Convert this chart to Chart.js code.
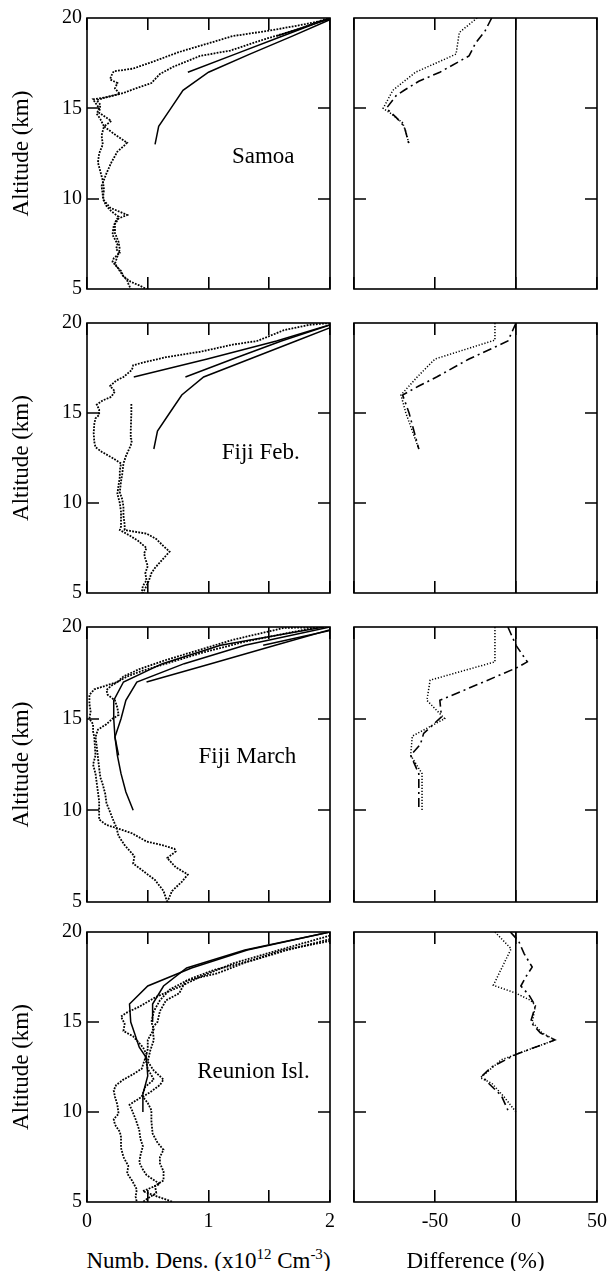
<!DOCTYPE html>
<html>
<head>
<meta charset="utf-8">
<script src="https://cdn.jsdelivr.net/npm/chart.js@4.4.0/dist/chart.umd.min.js"></script>
<style>
  html, body { margin: 0; padding: 0; background: #fff; }
  #page { position: relative; width: 609px; height: 1271px; overflow: hidden; }
  #page canvas { position: absolute; }
  #xtitle { position: absolute; left: 0; width: 417px; top: 1249px; text-align: center;
    font: 23px "Liberation Serif", serif; line-height: 24px; color: #000; white-space: nowrap; }
  #xtitle sup { font-size: 15px; line-height: 0; vertical-align: 9px; }
</style>
</head>
<body>
<div id="page">
  <div id="xtitle">Numb. Dens. (x10<sup>12</sup> Cm<sup>-3</sup>)</div>
</div>
<script>
(function() {
  'use strict';
  // 観測地点
  const stations = ['Samoa', 'Fiji Feb.', 'Fiji March', 'Reunion Isl.'];
  // 目盛り
  const altTicks = [5, 10, 15, 20];
  const densTicks = [0, 0.5, 1, 1.5, 2];
  const densLabelled = [0, 1, 2];
  const diffTicks = [-100, -50, 0, 50];
  const diffLabelled = [-50, 0, 50];

  // [高度 km, 数密度 x10^12] ゾンデ観測
  const samoaSonde1 = [[20,2.05],[19.6,1.75],[19.3,1.5],[19.0,1.2],[18.5,0.95],[18.1,0.75],[17.6,0.55],[17.2,0.38],[17.05,0.22],[16.8,0.2],[16.6,0.19],[16.4,0.25],[16.1,0.23],[15.8,0.27],[15.6,0.15],[15.5,0.05],[15.3,0.07],[15.0,0.1],[14.7,0.08],[14.4,0.11],[14.0,0.14],[13.5,0.12],[13.0,0.13],[12.5,0.1],[12.0,0.09],[11.5,0.11],[11.0,0.13],[10.5,0.14],[10.0,0.13],[9.6,0.16],[9.3,0.2],[9.0,0.26],[8.8,0.24],[8.5,0.22],[8.0,0.21],[7.5,0.25],[7.2,0.24],[7.0,0.27],[6.7,0.22],[6.5,0.21],[6.2,0.25],[6.0,0.28],[5.7,0.3],[5.5,0.33],[5.3,0.34],[5.0,0.36]];
  const samoaSonde2 = [[20,1.98],[19.4,1.75],[18.8,1.45],[18.2,1.18],[17.9,0.93],[17.3,0.71],[16.9,0.6],[16.4,0.53],[16.1,0.4],[15.85,0.3],[15.6,0.15],[15.45,0.08],[15.2,0.11],[14.75,0.1],[14.3,0.2],[14.0,0.14],[13.6,0.22],[13.1,0.33],[12.9,0.3],[12.6,0.25],[12.0,0.2],[11.4,0.16],[10.7,0.12],[10.2,0.13],[9.9,0.14],[9.5,0.19],[9.1,0.33],[8.9,0.26],[8.6,0.23],[8.1,0.23],[7.6,0.26],[7.2,0.27],[6.8,0.25],[6.4,0.23],[6.0,0.27],[5.7,0.3],[5.4,0.36],[5.2,0.43],[5.0,0.49]];
  const fijiFebSonde1 = [[20,2.0],[19.9,1.83],[19.6,1.62],[19.0,1.4],[18.8,1.2],[18.4,0.93],[18.1,0.65],[17.8,0.46],[17.65,0.38],[17.4,0.37],[17.0,0.3],[16.8,0.24],[16.5,0.19],[16.2,0.23],[15.9,0.2],[15.7,0.13],[15.46,0.08],[15.2,0.1],[14.9,0.1],[14.7,0.07],[14.4,0.06],[13.9,0.055],[13.4,0.06],[13.1,0.07],[12.85,0.12],[12.5,0.21],[12.2,0.28],[11.8,0.27],[11.45,0.27],[11.0,0.26],[10.5,0.25],[10.0,0.27],[9.5,0.28],[9.0,0.28],[8.7,0.28],[8.5,0.27],[8.2,0.35],[7.9,0.42],[7.5,0.49],[7.2,0.47],[6.9,0.48],[6.5,0.5],[6.1,0.48],[5.7,0.49],[5.4,0.46],[5.0,0.45]];
  const fijiFebSonde2 = [[15.5,0.365],[15.0,0.365],[14.0,0.36],[13.6,0.36],[13.5,0.37],[13.2,0.36],[12.6,0.32],[12.2,0.3],[11.6,0.29],[11.2,0.28],[10.6,0.27],[10.2,0.29],[9.8,0.3],[9.3,0.3],[8.8,0.31],[8.5,0.31],[8.3,0.49],[8.0,0.57],[7.6,0.63],[7.3,0.68],[7.0,0.64],[6.7,0.6],[6.4,0.56],[6.1,0.53],[5.7,0.51],[5.4,0.49],[5.0,0.46]];
  const fijiMarSonde1 = [[20,2.0],[19.95,1.62],[19.3,1.2],[18.7,0.9],[18.2,0.65],[17.7,0.43],[17.3,0.3],[17.0,0.25],[16.6,0.06],[16.3,0.02],[15.8,0.02],[15.4,0.03],[15.0,0.02],[14.7,0.05],[14.3,0.05],[14.0,0.06],[13.0,0.07],[12.5,0.05],[12.0,0.07],[11.5,0.08],[11.0,0.09],[10.5,0.1],[10.0,0.1],[9.5,0.1],[9.2,0.16],[9.0,0.26],[8.75,0.37],[8.3,0.49],[8.1,0.62],[7.9,0.72],[7.75,0.73],[7.4,0.66],[6.9,0.73],[6.5,0.83],[6.1,0.78],[5.6,0.7],[5.0,0.66]];
  const fijiMarSonde2 = [[20,1.9],[19.2,1.3],[18.6,0.95],[18.1,0.7],[17.6,0.45],[17.3,0.33],[17.0,0.25],[16.8,0.2],[16.56,0.16],[16.3,0.17],[16.0,0.23],[15.6,0.25],[15.2,0.26],[15.0,0.21],[14.7,0.16],[14.4,0.09],[14.0,0.07],[13.5,0.08],[12.9,0.09],[12.3,0.1],[11.8,0.11],[11.4,0.13],[10.9,0.15],[10.4,0.16],[9.9,0.19],[9.4,0.22],[9.1,0.24],[8.6,0.26],[8.1,0.31],[7.5,0.39],[7.1,0.38],[6.7,0.46],[6.2,0.56],[5.6,0.63],[5.0,0.66]];
  const reuSonde1 = [[19.8,2.0],[18.9,1.53],[18.25,1.2],[17.5,0.93],[16.95,0.76],[16.4,0.57],[15.85,0.43],[15.5,0.32],[15.3,0.28],[14.9,0.31],[14.5,0.3],[14.2,0.38],[13.6,0.46],[13.2,0.49],[12.8,0.47],[12.4,0.45],[12.1,0.38],[11.8,0.3],[11.5,0.24],[11.2,0.22],[10.85,0.23],[10.4,0.25],[9.9,0.26],[9.6,0.22],[9.3,0.23],[8.9,0.27],[8.6,0.28],[8.0,0.28],[7.5,0.3],[7.0,0.34],[6.6,0.33],[6.2,0.37],[5.7,0.41],[5.3,0.4],[5.0,0.41]];
  const reuSonde2 = [[19.6,2.0],[19.0,1.65],[18.4,1.35],[17.9,1.05],[17.4,0.85],[16.8,0.68],[16.2,0.6],[15.6,0.55],[15.0,0.53],[14.6,0.55],[14.0,0.5],[13.5,0.5],[13.0,0.48],[12.4,0.5],[11.8,0.55],[11.4,0.48],[10.85,0.45],[10.4,0.35],[10.1,0.37],[9.6,0.4],[9.0,0.43],[8.5,0.44],[8.1,0.46],[7.6,0.44],[7.2,0.43],[6.8,0.46],[6.5,0.49],[6.0,0.6],[5.6,0.46],[5.3,0.58],[5.0,0.71]];
  const reuSonde3 = [[19.5,2.0],[19.0,1.62],[18.4,1.34],[17.7,1.07],[17.3,0.82],[17.0,0.79],[16.6,0.76],[16.2,0.65],[15.6,0.6],[15.0,0.58],[14.7,0.54],[14.0,0.55],[13.4,0.52],[12.8,0.5],[12.3,0.55],[11.8,0.63],[11.5,0.6],[11.1,0.52],[10.85,0.46],[10.5,0.5],[10.1,0.53],[9.5,0.53],[8.8,0.54],[8.3,0.58],[7.9,0.63],[7.5,0.6],[7.15,0.6],[6.7,0.63],[6.2,0.63],[5.9,0.56],[5.5,0.57],[5.2,0.5],[5.0,0.46]];

  // [高度 km, 数密度] モデル
  const samoaModel1 = [[13,0.56],[14,0.59],[15,0.69],[16,0.79],[17,1.0],[18,1.34],[19,1.69],[20,2.03]];
  const samoaModel2 = [[17,0.83],[18,1.22],[19,1.61],[20,2.0]];
  const samoaModel3 = [[19,1.56],[20,2.02]];
  const fijiFebModel1 = [[13,0.55],[14,0.58],[15,0.68],[16,0.78],[17,0.96],[18,1.34],[19,1.72],[20,2.1]];
  const fijiFebModel2 = [[17,0.81],[18,1.2],[19,1.6],[20,2.05]];
  const fijiFebModel3 = [[17,0.385],[18,0.99],[19,1.56],[20,2.05]];
  const fijiMarModel1 = [[10,0.38],[11,0.32],[12,0.28],[13,0.25],[14,0.23],[15,0.22],[16,0.22],[17,0.3],[18,0.62],[19,1.1],[20,1.95]];
  const fijiMarModel2 = [[13,0.26],[14,0.23],[15,0.28],[16,0.32],[17,0.41],[18,0.8],[19,1.3],[20,2.0]];
  const fijiMarModel3 = [[17,0.49],[18,1.02],[19,1.55],[20,2.08]];
  const fijiMarModel4 = [[19,1.45],[20,2.13]];
  const reuModel1 = [[10,0.46],[11,0.46],[12,0.5],[13,0.49],[13.6,0.43],[14.4,0.39],[15,0.36],[16,0.35],[17,0.5],[18,0.86],[19,1.32],[20,2.0]];
  const reuModel2 = [[15,0.54],[16,0.54],[17,0.63],[18,0.82],[19,1.3],[20,2.0]];

  // [高度 km, 差 %]
  const samoaDiffDot = [[20,-24],[19.2,-35],[18,-37],[17,-62],[16,-76],[15,-82],[14.7,-77],[14.2,-70],[13.7,-68],[13,-66]];
  const samoaDiffDash = [[20,-15],[19.3,-19],[18.6,-25],[17.9,-29],[17,-47],[16.5,-60],[16,-69],[15.7,-74],[15,-80],[14.5,-74],[14,-69],[13,-66]];
  const fijiFebDiffDot = [[20,-13],[19.05,-13],[18,-50],[17,-61],[16,-71],[15,-68],[14,-64],[13,-60]];
  const fijiFebDiffDash = [[20,0],[19.4,-3],[19,-5],[18,-29],[17,-49],[16.5,-60],[16,-70],[15,-66],[14,-63],[13,-60]];
  const fijiMarDiffDot = [[20,-13],[18.1,-13],[17.1,-53],[16,-55],[15,-44],[14.05,-64],[13,-65],[12,-58],[10,-58]];
  const fijiMarDiffDash = [[20,-5],[19,0],[18.1,7],[17.8,1],[17,-20],[16,-47],[15.1,-46],[14.2,-57],[13.6,-59],[13,-65],[12,-60],[10,-60]];
  const reuDiffDot = [[20,-13],[19.07,-3],[17.04,-14],[16.6,0],[16.2,9],[15.9,12],[15,10],[14.4,16],[14,24],[13.2,0],[12.9,-9],[11.9,-22],[11.6,-15],[10.8,-7],[10,0]];
  const reuDiffDash = [[20,-3.5],[19.5,1.6],[18.8,5],[18.05,10],[17.5,6],[17,3],[16.5,8],[15.9,12],[15,9],[14.4,15],[14,24],[13.2,0],[12.5,-15],[12,-21],[11.6,-17],[10.9,-9],[10.1,-5]];

  // 段ごとの設定
  const rows = [
    { top: 18, height: 271, sondes: [samoaSonde1, samoaSonde2], models: [samoaModel1, samoaModel2, samoaModel3],
      diffDot: samoaDiffDot, diffDash: samoaDiffDash, labelAt: [1.45, 12.3] },
    { top: 323, height: 270, sondes: [fijiFebSonde1, fijiFebSonde2], models: [fijiFebModel1, fijiFebModel2, fijiFebModel3],
      diffDot: fijiFebDiffDot, diffDash: fijiFebDiffDash, labelAt: [1.43, 12.78] },
    { top: 627, height: 275, sondes: [fijiMarSonde1, fijiMarSonde2], models: [fijiMarModel1, fijiMarModel2, fijiMarModel3, fijiMarModel4],
      diffDot: fijiMarDiffDot, diffDash: fijiMarDiffDash, labelAt: [1.32, 12.9] },
    { top: 932, height: 270, sondes: [reuSonde1, reuSonde2, reuSonde3], models: [reuModel1, reuModel2],
      diffDot: reuDiffDot, diffDash: reuDiffDash, labelAt: [1.37, 12.22] },
  ];

  const FONT = '"Liberation Serif", "Times New Roman", serif';
  Chart.defaults.font.family = FONT;
  Chart.defaults.color = '#000';

  const pageElem = document.getElementById('page');
  const lastRow = rows.length - 1;
  const TICK_LEN = 12;

  // 枠と縦軸の内向き目盛り、地点名
  const framePlugin = {
    id: 'frame',
    afterDraw(chart, args, opts) {
      const ctx = chart.ctx;
      const a = chart.chartArea;
      const xs = chart.scales.x;
      const ys = chart.scales.y;
      const yTicks = (opts.yTicks || []).slice(1, -1);
      ctx.save();
      ctx.setLineDash([]);
      ctx.strokeStyle = '#000';
      ctx.fillStyle = '#000';
      ctx.lineWidth = 1.6;
      ctx.strokeRect(a.left, a.top, a.right - a.left, a.bottom - a.top);
      yTicks.forEach(function(v) {
        const py = Math.round(ys.getPixelForValue(v));
        ctx.beginPath();
        ctx.moveTo(a.left, py);
        ctx.lineTo(a.left + TICK_LEN, py);
        ctx.moveTo(a.right, py);
        ctx.lineTo(a.right - TICK_LEN, py);
        ctx.stroke();
      });
      if (opts.label) {
        ctx.font = '23px ' + FONT;
        ctx.textAlign = 'center';
        ctx.textBaseline = 'middle';
        ctx.fillText(opts.label, xs.getPixelForValue(opts.at[0]), ys.getPixelForValue(opts.at[1]));
      }
      ctx.restore();
    }
  };

  function toPoints(pairs) {
    return pairs.map(function(p) { return { x: p[1], y: p[0] }; });
  }

  function addCanvas(left, top, width, height) {
    const c = document.createElement('canvas');
    c.width = width;
    c.height = height;
    c.style.left = left + 'px';
    c.style.top = top + 'px';
    c.style.width = width + 'px';
    c.style.height = height + 'px';
    pageElem.appendChild(c);
    return c.getContext('2d');
  }

  function yScale(showLabels, leftWidth) {
    return {
      type: 'linear', min: 5, max: 20,
      afterBuildTicks: function(s) { s.ticks = altTicks.map(function(v) { return { value: v }; }); },
      afterFit: function(s) { s.width = leftWidth; s.paddingTop = 0; s.paddingBottom = 0; },
      grid: { display: false, drawTicks: false },
      border: { display: false },
      ticks: { display: showLabels, padding: 5, font: { size: 20 } },
      title: { display: showLabels, text: 'Altitude (km)', font: { size: 23 }, padding: { top: 8, bottom: 0 } }
    };
  }

  // 下側の横軸（目盛りは負の長さで内向き）
  function xScale(min, max, tickValues, labelled, isBottom, title) {
    return {
      type: 'linear', position: 'bottom', min: min, max: max,
      afterBuildTicks: function(s) { s.ticks = tickValues.map(function(v) { return { value: v }; }); },
      afterFit: function(s) { s.height = isBottom ? 69 : 0; s.paddingLeft = 0; s.paddingRight = 0; },
      grid: { display: true, drawOnChartArea: false, drawTicks: true, tickLength: -TICK_LEN,
        color: '#000', tickColor: '#000', lineWidth: 1.6, tickWidth: 1.6 },
      border: { display: false },
      ticks: {
        display: isBottom, padding: 8 + TICK_LEN, autoSkip: false, maxRotation: 0, font: { size: 20 },
        callback: function(v) { return labelled.indexOf(v) >= 0 ? String(v) : ''; }
      },
      title: { display: isBottom && !!title, text: title || '', font: { size: 23, lineHeight: 0.8 }, padding: { top: 0, bottom: 0 } }
    };
  }

  // 上側の横軸（目盛りだけ）
  function xTopScale(min, max, tickValues) {
    return {
      type: 'linear', axis: 'x', position: 'top', min: min, max: max,
      afterBuildTicks: function(s) { s.ticks = tickValues.map(function(v) { return { value: v }; }); },
      afterFit: function(s) { s.height = 0; s.paddingLeft = 0; s.paddingRight = 0; },
      grid: { display: true, drawOnChartArea: false, drawTicks: true, tickLength: -TICK_LEN,
        color: '#000', tickColor: '#000', lineWidth: 1.6, tickWidth: 1.6 },
      border: { display: false },
      ticks: { display: false, autoSkip: false },
      title: { display: false }
    };
  }

  rows.forEach(function(row, i) {
    const isBottom = i === lastRow;
    const cTop = row.top - 12;
    const cHeight = isBottom ? 1271 - cTop : row.height + 24;
    const pad = { top: 12, bottom: isBottom ? 0 : 12 };

    // 左: 数密度
    const densSets = [];
    row.sondes.forEach(function(s) {
      densSets.push({ data: toPoints(s), showLine: true, borderColor: '#000', borderWidth: 1.8,
        borderDash: [1.8, 1.3], pointRadius: 0, tension: 0 });
    });
    row.models.forEach(function(m) {
      densSets.push({ data: toPoints(m), showLine: true, borderColor: '#000', borderWidth: 1.5,
        pointRadius: 0, tension: 0 });
    });
    new Chart(addCanvas(0, cTop, 340, cHeight), {
      type: 'scatter',
      data: { datasets: densSets },
      options: {
        responsive: false, animation: false, events: [],
        layout: { padding: { left: 0, right: 10, top: pad.top, bottom: pad.bottom } },
        plugins: { legend: { display: false }, tooltip: { enabled: false },
          frame: { label: stations[i], at: row.labelAt, yTicks: altTicks } },
        scales: {
          x: xScale(0, 2, densTicks, densLabelled, isBottom, null),
          xTop: xTopScale(0, 2, densTicks),
          y: yScale(true, 87)
        }
      },
      plugins: [framePlugin]
    });

    // 右: 差
    const diffX = xScale(-100, 50, diffTicks, diffLabelled, isBottom, 'Difference (%)');
    diffX.grid = { display: true, drawOnChartArea: true, drawTicks: true, tickLength: -TICK_LEN,
      lineWidth: 1.6, tickWidth: 1.6, tickColor: '#000',
      color: function(c) { return c.tick && c.tick.value === 0 ? '#000' : 'rgba(0,0,0,0)'; } };
    new Chart(addCanvas(340, cTop, 269, cHeight), {
      type: 'scatter',
      data: { datasets: [
        { data: toPoints(row.diffDot), showLine: true, borderColor: '#000', borderWidth: 1.5,
          borderDash: [1.2, 1.8], pointRadius: 0, tension: 0 },
        { data: toPoints(row.diffDash), showLine: true, borderColor: '#000', borderWidth: 1.6,
          borderDash: [9, 4, 2, 4], pointRadius: 0, tension: 0 }
      ] },
      options: {
        responsive: false, animation: false, events: [],
        layout: { padding: { left: 0, right: 12, top: pad.top, bottom: pad.bottom } },
        plugins: { legend: { display: false }, tooltip: { enabled: false },
          frame: { yTicks: altTicks } },
        scales: {
          x: diffX,
          xTop: xTopScale(-100, 50, diffTicks),
          y: yScale(false, 14)
        }
      },
      plugins: [framePlugin]
    });
  });
})();
</script>
</body>
</html>
